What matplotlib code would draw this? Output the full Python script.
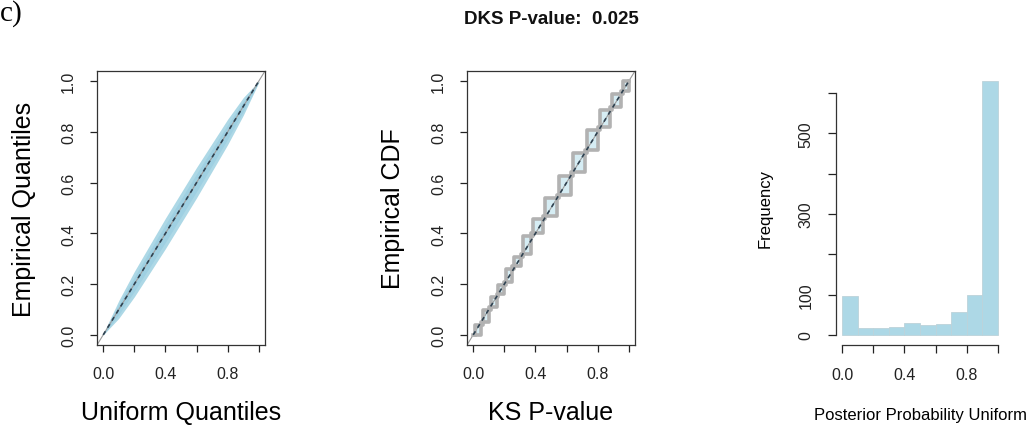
"""
Three-panel calibration figure: QQ band, KS p-value ECDF, histogram of
posterior probability of uniformity.
"""

import matplotlib.pyplot as plt
import numpy as np

plt.rcParams["font.family"] = ["Liberation Sans", "DejaVu Sans"]

# panel 1: envelope of empirical quantiles around the uniform line
quant_grid = [0.0, 0.1, 0.2, 0.3, 0.4, 0.5, 0.6, 0.7, 0.8, 0.9, 1.0]
band_lower = [0.0, 0.065, 0.15, 0.245, 0.34, 0.44, 0.54, 0.645, 0.75, 0.865, 0.995]
band_upper = [0.005, 0.135, 0.25, 0.355, 0.46, 0.56, 0.66, 0.755, 0.85, 0.935, 1.0]
inner_lower = [0.0, 0.08, 0.172, 0.268, 0.365, 0.465, 0.565, 0.668, 0.772, 0.88, 0.997]
inner_upper = [0.003, 0.12, 0.228, 0.332, 0.435, 0.535, 0.635, 0.732, 0.828, 0.92, 1.0]

# panel 2: lower and upper ECDF staircases of the KS p-values
ecdf_lo_x = [0.00, 0.05, 0.10, 0.15, 0.20, 0.25, 0.31, 0.37, 0.45, 0.54,
             0.63, 0.72, 0.80, 0.88, 0.95, 1.00]
ecdf_lo_y = [0.00, 0.05, 0.11, 0.16, 0.21, 0.27, 0.32, 0.40, 0.47, 0.55,
             0.64, 0.73, 0.82, 0.90, 0.96, 1.00]
ecdf_hi_x = [0.012, 0.062, 0.112, 0.162, 0.212, 0.262, 0.322, 0.382, 0.462,
             0.552, 0.642, 0.732, 0.812, 0.892, 0.962, 1.00]
ecdf_hi_y = [0.00, 0.038, 0.098, 0.148, 0.198, 0.258, 0.308, 0.388, 0.458,
             0.538, 0.628, 0.718, 0.808, 0.888, 0.948, 1.00]

# panel 3: histogram of posterior probability uniform
bin_edges = [0.0, 0.1, 0.2, 0.3, 0.4, 0.5, 0.6, 0.7, 0.8, 0.9, 1.0]
bin_counts = [97, 16, 17, 19, 29, 24, 27, 56, 99, 630]

title_text = "DKS P-value:  0.025"

LIGHTBLUE = "#add8e6"
DASH_COLOR = "#2e4150"
STEP_GRAY = "#b2b2b2"


def style_box_axes(ax):
    ax.set_xlim(-0.04, 1.04)
    ax.set_ylim(-0.04, 1.04)
    ax.set_xticks([0, 0.2, 0.4, 0.6, 0.8, 1.0])
    ax.set_xticklabels(["0.0", "", "0.4", "", "0.8", ""])
    ax.set_yticks([0, 0.2, 0.4, 0.6, 0.8, 1.0])
    ax.set_yticklabels(["0.0", "0.2", "0.4", "0.6", "0.8", "1.0"],
                       rotation=90, va="center")
    ax.tick_params(length=5, width=0.9, pad=10, labelsize=11.5,
                   colors="#222222")
    for sp in ax.spines.values():
        sp.set_linewidth(0.9)
        sp.set_color("#333333")


def diagonal(ax):
    ax.plot([-0.04, 1.04], [-0.04, 1.04], color="#9a9a9a", lw=0.8, zorder=2)
    ax.plot([0, 1], [0, 1], color=DASH_COLOR, lw=1.2, dashes=(2.5, 2.5),
            zorder=4)


W = 168 / 1027
H = 274 / 427
BOTTOM = (427 - 346) / 427

fig = plt.figure(figsize=(10.27, 4.27), dpi=100)
ax1 = fig.add_axes([97 / 1027, BOTTOM, W, H])
ax2 = fig.add_axes([467 / 1027, BOTTOM, W, H])
ax3 = fig.add_axes([836 / 1027, BOTTOM, W, H])

# panel 1
ax1.fill_between(quant_grid, band_lower, band_upper, color=LIGHTBLUE,
                 lw=0, zorder=1)
ax1.fill_between(quant_grid, inner_lower, inner_upper, color="#9fd0e2",
                 lw=0, zorder=1)
diagonal(ax1)
style_box_axes(ax1)
ax1.set_ylabel("Empirical Quantiles", fontsize=18)
ax1.set_xlabel("Uniform Quantiles", fontsize=18)
ax1.yaxis.set_label_coords(-0.435, 0.5)
ax1.xaxis.set_label_coords(0.5, -0.245)
ax1.xaxis.label.set_va("center")
ax1.yaxis.label.set_va("center")

# panel 2: light fill between the two staircases
grid = np.linspace(0, 1, 801)
lo_idx = np.clip(np.searchsorted(ecdf_lo_x, grid, side="right") - 1, 0,
                 len(ecdf_lo_x) - 1)
hi_idx = np.clip(np.searchsorted(ecdf_hi_x, grid, side="left"), 0,
                 len(ecdf_hi_x) - 1)
lo_vals = np.asarray(ecdf_lo_y)[lo_idx]
hi_vals = np.asarray(ecdf_hi_y)[hi_idx]
ax2.fill_between(grid, np.minimum(lo_vals, hi_vals),
                 np.maximum(lo_vals, hi_vals), color="#d6edf4", lw=0,
                 zorder=1)
ax2.plot(ecdf_lo_x, ecdf_lo_y, drawstyle="steps-post", color=STEP_GRAY,
         lw=2.6, zorder=3)
ax2.plot(ecdf_hi_x, ecdf_hi_y, drawstyle="steps-pre", color=STEP_GRAY,
         lw=2.6, zorder=3)
diagonal(ax2)
style_box_axes(ax2)
ax2.set_ylabel("Empirical CDF", fontsize=18)
ax2.set_xlabel("KS P-value", fontsize=18)
ax2.yaxis.set_label_coords(-0.44, 0.5)
ax2.xaxis.set_label_coords(0.5, -0.245)
ax2.xaxis.label.set_va("center")
ax2.yaxis.label.set_va("center")

# panel 3
ax3.bar(bin_edges[:-1], bin_counts, width=np.diff(bin_edges), align="edge",
        color=LIGHTBLUE, edgecolor="#bcd3da", linewidth=0.6)
ax3.set_xlim(-0.04, 1.04)
ax3.set_ylim(-25.2, 655.2)
ax3.set_xticks([0, 0.2, 0.4, 0.6, 0.8, 1.0])
ax3.set_xticklabels(["0.0", "", "0.4", "", "0.8", ""])
ax3.set_yticks([0, 100, 200, 300, 400, 500, 600])
ax3.set_yticklabels(["0", "100", "", "300", "", "500", ""], rotation=90,
                    va="center")
ax3.tick_params(length=6, width=0.9, pad=10, labelsize=11.5, colors="#222222")
for side in ["top", "right"]:
    ax3.spines[side].set_visible(False)
ax3.spines["left"].set_bounds(0, 600)
ax3.spines["bottom"].set_bounds(0, 1)
for side in ["left", "bottom"]:
    ax3.spines[side].set_linewidth(0.9)
    ax3.spines[side].set_color("#333333")
ax3.set_ylabel("Frequency", fontsize=12)
ax3.set_xlabel("Posterior Probability Uniform", fontsize=12)
ax3.yaxis.set_label_coords(-0.42, 0.5)
ax3.xaxis.set_label_coords(0.5, -0.255)
ax3.xaxis.label.set_va("center")
ax3.yaxis.label.set_va("center")

fig.text(551 / 1027, 1 - 20 / 427, title_text, ha="center", va="center",
         fontsize=13.5, fontweight="bold", color="#111111")
fig.text(0.0, 1.0, "c)", ha="left", va="top", fontsize=21,
         family=["Liberation Serif", "DejaVu Serif"])

fig.savefig("out.png", dpi=100)
plt.close(fig)
